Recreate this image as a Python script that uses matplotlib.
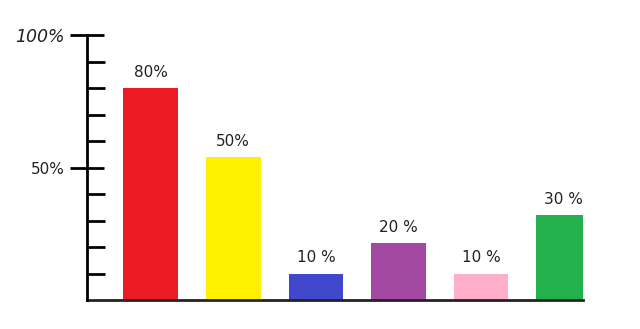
import matplotlib
matplotlib.use("Agg")
import matplotlib.pyplot as plt
from matplotlib.ticker import FixedLocator

categories = ["A", "B", "C", "D", "E", "F"]
heights = [80, 54, 10, 21.5, 10, 32]
bar_labels = ["80%", "50%", "10 %", "20 %", "10 %", "30 %"]
colors = ["#ED1C24", "#FFF200", "#3F48CC", "#A349A4", "#FFAEC9", "#22B14C"]
ytick_values = [50, 100]
ytick_labels = ["50%", "100%"]
minor_ticks = [10, 20, 30, 40, 60, 70, 80, 90]

fig = plt.figure(figsize=(6.4, 3.29), dpi=100)
ax = fig.add_axes([87/640, 29/329, 496/640, 265/329])

x = list(range(len(categories)))
ax.bar(x, heights, width=0.66, color=colors, zorder=1)
for xi, h, lab in zip(x, heights, bar_labels):
    ax.annotate(lab, (xi, h), xytext=(0, 6), textcoords="offset points",
                ha="center", va="bottom", fontsize=11, color="#222222")

ax.set_xlim(-0.771, 5.233)
ax.set_ylim(0, 100)
for s in ["top", "right"]:
    ax.spines[s].set_visible(False)
ax.spines["left"].set_linewidth(2)
ax.spines["bottom"].set_linewidth(2)
ax.spines["bottom"].set_color("#222222")
ax.set_xticks([])
ax.set_yticks(ytick_values)
ax.set_yticklabels(ytick_labels, fontsize=11, color="#222222")
ax.get_yticklabels()[1].set_fontsize(12.5)
ax.get_yticklabels()[1].set_style("italic")
ax.yaxis.set_minor_locator(FixedLocator(minor_ticks))
ax.tick_params(axis="y", which="major", direction="inout", length=24, width=2, pad=4)
ax.tick_params(axis="y", which="minor", direction="in", length=13, width=2)
ax.spines["left"].set_zorder(3)

fig.savefig("out.png", dpi=100)
